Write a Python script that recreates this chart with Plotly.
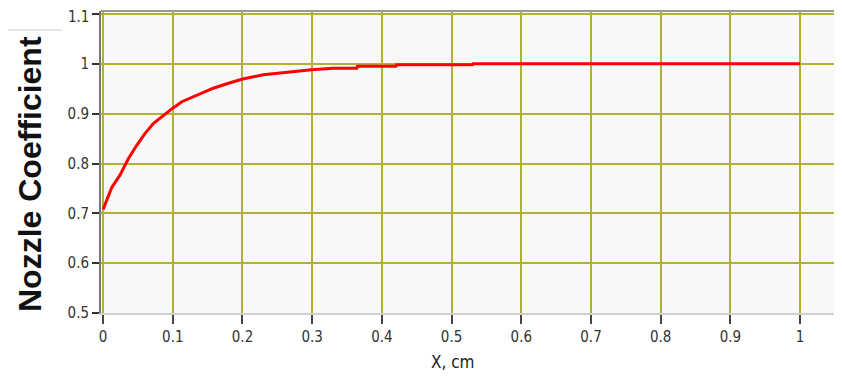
import plotly.graph_objects as go

x_cm = [0, 0.0125, 0.024, 0.036, 0.048, 0.06, 0.072, 0.084, 0.099, 0.113, 0.125, 0.14,
        0.158, 0.18, 0.199, 0.23, 0.268, 0.299, 0.33, 0.364, 0.365, 0.42, 0.421, 0.53,
        0.531, 1.0]
nozzle_coef = [0.708, 0.752, 0.776, 0.809, 0.836, 0.860, 0.880, 0.894, 0.910, 0.924, 0.931,
               0.941, 0.951, 0.961, 0.969, 0.978, 0.984, 0.988, 0.991, 0.991, 0.995, 0.995,
               0.998, 0.998, 1.0, 1.0]
x_ticks = [0, 0.1, 0.2, 0.3, 0.4, 0.5, 0.6, 0.7, 0.8, 0.9, 1]
x_tick_labels = ["0", "0.1", "0.2", "0.3", "0.4", "0.5", "0.6", "0.7", "0.8", "0.9", "1"]
y_ticks = [0.5, 0.6, 0.7, 0.8, 0.9, 1.0, 1.1]
y_tick_labels = ["0.5", "0.6", "0.7", "0.8", "0.9", "1", "1.1"]

grid_color = "rgb(178,178,50)"
tick_font = dict(family="DejaVu Sans Condensed, DejaVu Sans", size=15, color="#333333")

# page body has an 8px margin; compensate so the chart lands where the reference has it
OFF = 8
W, H = 842 - 2 * OFF, 379 - 2 * OFF
L, T = 101 - OFF, 11 - OFF
PH = 302
B = H - T - PH
PW = W - L

# the top tick label sits partly above the figure edge, so it is drawn as an annotation
axis_labels = [t if v < 1.1 else "" for v, t in zip(y_ticks, y_tick_labels)]
top_val, top_text = y_ticks[-1], y_tick_labels[-1]

fig = go.Figure()
fig.add_trace(go.Scatter(x=x_cm, y=nozzle_coef, mode="lines",
                         line=dict(color="#ff0000", width=3), showlegend=False,
                         hoverinfo="skip"))

fig.update_layout(
    width=W, height=H,
    margin=dict(l=L, r=0, t=T, b=B, autoexpand=False),
    paper_bgcolor="white",
    plot_bgcolor="#f8f8f8",
    xaxis=dict(
        range=[-0.003, -0.003 + PW / 697],
        tickvals=x_ticks, ticktext=x_tick_labels,
        showgrid=True, gridcolor=grid_color, gridwidth=1.6,
        zeroline=False, automargin=False,
        showline=True, linecolor="#d0d0d0", linewidth=2,
        ticks="outside", ticklen=9, tickwidth=1.5, tickcolor="#444444",
        tickfont=tick_font,
    ),
    yaxis=dict(
        range=[0.5, 1.106],
        tickvals=y_ticks, ticktext=axis_labels,
        showgrid=True, gridcolor=grid_color, gridwidth=1.6,
        zeroline=False, automargin=False,
        showline=True, linecolor="#777777", linewidth=2,
        ticks="outside", ticklen=7, tickwidth=2, tickcolor="#333333",
        tickfont=tick_font,
    ),
    annotations=[
        dict(text=top_text, xref="paper", yref="y", x=0, y=top_val,
             xanchor="right", yanchor="middle", xshift=-10, yshift=-3, showarrow=False,
             font=tick_font),
        dict(text="<b>Nozzle Coefficient</b>", xref="paper", yref="paper",
             x=(30 - OFF - L) / PW, y=1 - (174 - OFF - T) / PH,
             xanchor="center", yanchor="middle",
             textangle=-90, showarrow=False,
             font=dict(family="Liberation Sans Narrow, Arial Narrow, Liberation Sans, Arial",
                       size=32, color="#111111")),
        dict(text="X, cm", xref="paper", yref="paper",
             x=(453 - OFF - L) / PW, y=1 - (362 - OFF - T) / PH,
             xanchor="center", yanchor="middle",
             showarrow=False,
             font=dict(family="DejaVu Sans Condensed, DejaVu Sans", size=17, color="#222222")),
    ],
    shapes=[
        dict(type="line", xref="paper", yref="paper", x0=0, x1=1, y0=1, y1=1,
             line=dict(color="#999999", width=2)),
        dict(type="line", xref="paper", yref="paper", x0=-L / PW, x1=(62 - OFF - L) / PW,
             y0=1 - (30 - OFF - T) / PH, y1=1 - (30 - OFF - T) / PH,
             line=dict(color="#cccccc", width=1)),
    ],
)

fig.write_html("out.html")
